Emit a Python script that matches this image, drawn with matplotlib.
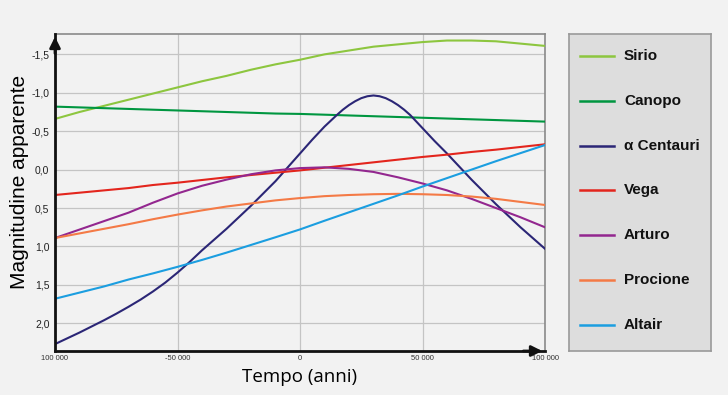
import matplotlib.pyplot as plt

# tempo in migliaia di anni
t_k = [-100, -90, -80, -70, -60, -50, -40, -30, -20, -10, 0,
       10, 20, 30, 40, 50, 60, 70, 80, 90, 100]
sirio = [-0.66, -0.75, -0.83, -0.91, -0.99, -1.07, -1.15, -1.22, -1.30, -1.37, -1.43,
         -1.50, -1.55, -1.60, -1.63, -1.66, -1.68, -1.68, -1.67, -1.64, -1.61]
canopo = [-0.82, -0.81, -0.80, -0.79, -0.78, -0.77, -0.76, -0.75, -0.74, -0.73, -0.725,
          -0.715, -0.705, -0.695, -0.685, -0.675, -0.665, -0.655, -0.645, -0.635, -0.625]
vega = [0.33, 0.30, 0.27, 0.24, 0.20, 0.17, 0.135, 0.10, 0.07, 0.04, 0.01,
        -0.025, -0.06, -0.095, -0.13, -0.165, -0.195, -0.23, -0.26, -0.295, -0.33]
arturo = [0.89, 0.78, 0.67, 0.56, 0.43, 0.31, 0.21, 0.13, 0.06, 0.01, -0.02,
          -0.03, -0.01, 0.03, 0.10, 0.18, 0.27, 0.38, 0.50, 0.62, 0.75]
procione = [0.89, 0.83, 0.77, 0.71, 0.645, 0.585, 0.53, 0.48, 0.44, 0.40, 0.37,
            0.345, 0.33, 0.32, 0.315, 0.32, 0.33, 0.35, 0.38, 0.42, 0.46]
altair = [1.68, 1.60, 1.52, 1.43, 1.35, 1.265, 1.175, 1.08, 0.98, 0.88, 0.778,
          0.665, 0.555, 0.445, 0.335, 0.22, 0.11, 0.0, -0.11, -0.215, -0.32]

# alfa Centauri: passo piu' fitto vicino al massimo
t_k_cen = [-100, -95, -90, -85, -80, -75, -70, -65, -60, -55, -50, -45, -40, -35, -30,
           -25, -20, -15, -10, -5, 0, 5, 10, 15, 17.5, 20, 22.5, 25, 27.5, 30, 32.5, 35,
           37.5, 40, 42.5, 45, 50, 55, 60, 65, 70, 75, 80, 85, 90, 95, 100]
centauri = [2.27, 2.195, 2.12, 2.04, 1.96, 1.875, 1.785, 1.69, 1.585, 1.47, 1.34, 1.20, 1.05, 0.91, 0.77,
            0.62, 0.47, 0.31, 0.15, -0.03, -0.21, -0.39, -0.56, -0.71, -0.78, -0.84, -0.89, -0.93, -0.955, -0.965, -0.955, -0.93,
            -0.89, -0.84, -0.78, -0.71, -0.54, -0.37, -0.21, -0.04, 0.13, 0.29, 0.45, 0.60, 0.75, 0.89, 1.03]

names = ['Sirio', 'Canopo', 'α Centauri', 'Vega', 'Arturo', 'Procione', 'Altair']
colors = ['#8dc63f', '#009640', '#2b2676', '#e3251d', '#93278f', '#f47a46', '#1b9ee0']

y_ticks = [-1.5, -1.0, -0.5, 0.0, 0.5, 1.0, 1.5, 2.0]
y_ticklabels = ['-1,5', '-1,0', '-0,5', '0,0', '0,5', '1,0', '1,5', '2,0']
x_ticks = [-100000, -50000, 0, 50000, 100000]
x_ticklabels = ['100 000', '-50 000', '0', '50 000', '100 000']

series = [(t_k, sirio), (t_k, canopo), (t_k_cen, centauri), (t_k, vega),
          (t_k, arturo), (t_k, procione), (t_k, altair)]

bg = '#f2f2f2'
fig = plt.figure(figsize=(7.28, 3.95), dpi=100, facecolor=bg)
ax = fig.add_axes([55/728, 1-351/395, 490/728, 317/395], facecolor=bg)

for (tt, mm), c in zip(series, colors):
    ax.plot([v*1000 for v in tt], mm, color=c, lw=1.5, zorder=3)

ax.set_xlim(-100000, 100000)
ax.set_ylim(2.36, -1.765)
ax.set_yticks(y_ticks)
ax.set_yticklabels(y_ticklabels, fontsize=7.5, family='Liberation Sans', color='#222222')
ax.set_xticks(x_ticks)
ax.set_xticklabels(x_ticklabels, fontsize=5.5, family='Liberation Sans', color='#333333')
ax.tick_params(length=0, pad=4)
ax.tick_params(axis='x', pad=3)
ax.grid(True, color='#c4c4c4', lw=0.9, zorder=1)

for s in ['top', 'right']:
    ax.spines[s].set_color('#8a8a8a')
    ax.spines[s].set_linewidth(1.2)
for s in ['left', 'bottom']:
    ax.spines[s].set_color('#111111')
    ax.spines[s].set_linewidth(2)
    ax.spines[s].set_zorder(5)

ax.annotate('', xy=(0, 1.0), xytext=(0, 0.93), xycoords='axes fraction',
            arrowprops=dict(arrowstyle='-|>', color='#111111', lw=2, mutation_scale=16),
            annotation_clip=False, zorder=6)
ax.annotate('', xy=(1.0, 0), xytext=(0.95, 0), xycoords='axes fraction',
            arrowprops=dict(arrowstyle='-|>', color='#111111', lw=2, mutation_scale=16),
            annotation_clip=False, zorder=6)

ax.set_ylabel('Magnitudine apparente', fontsize=15, family='Liberation Sans')
ax.yaxis.set_label_coords(-0.053, 0.533)
ax.set_xlabel('Tempo (anni)', fontsize=13.5, family='Open Sans', labelpad=4)

# legenda
lg = fig.add_axes([569/728, 1-351/395, 142/728, 317/395], facecolor='#dddddd')
lg.set_xlim(0, 142)
lg.set_ylim(351, 34)
lg.set_xticks([])
lg.set_yticks([])
for s in lg.spines.values():
    s.set_color('#9a9a9a')
    s.set_linewidth(1.2)
for i, (n, c) in enumerate(zip(names, colors)):
    y = 56 + i * 44.8
    lg.plot([11, 45], [y, y], color=c, lw=1.8)
    lg.text(55, y, n, fontsize=11, fontweight='bold', family='Liberation Sans',
            va='center', ha='left', color='#111111')

fig.savefig('out.png', dpi=100, facecolor=bg)
